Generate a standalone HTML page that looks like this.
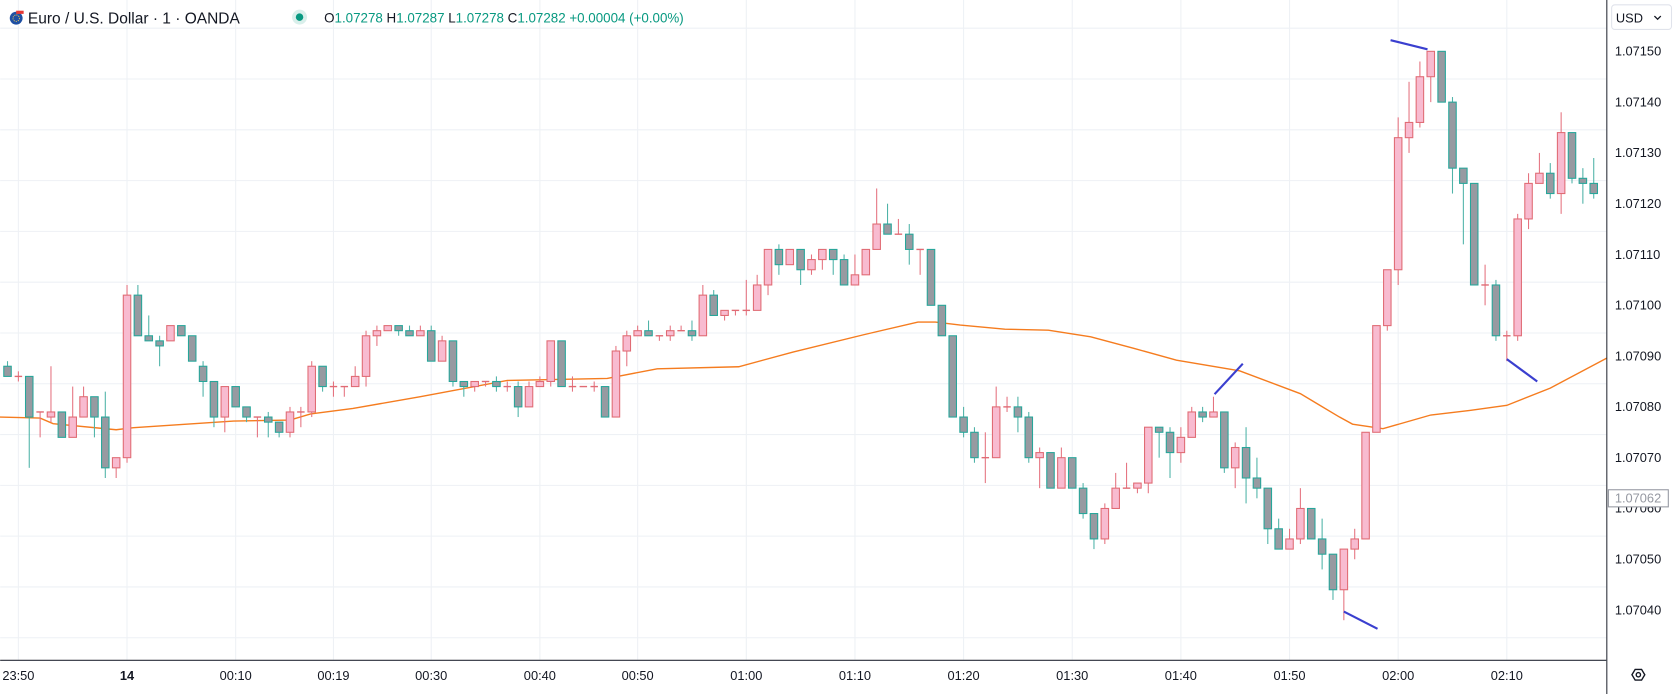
<!DOCTYPE html>
<html><head><meta charset="utf-8">
<style>
html,body{margin:0;padding:0;background:#fff;overflow:hidden}
svg{display:block;font-family:"Liberation Sans",sans-serif}
</style></head>
<body>
<svg id="chart" width="1677" height="694" viewBox="0 0 1568 649" xmlns="http://www.w3.org/2000/svg">
  <rect x="0" y="0" width="1568" height="649" fill="#ffffff"/>
  <g id="grid"></g>
  <g id="ma"></g>
  <g id="candles"></g>
  <g id="drawings"></g>
  <line x1="1502.5" y1="0" x2="1502.5" y2="649" stroke="#2a2e39" stroke-width="1"/>
  <line x1="0" y1="617.5" x2="1502" y2="617.5" stroke="#2a2e39" stroke-width="1"/>
  <g id="yaxis"></g>
  <g id="xaxis"></g>
  <g>
    <g>
      <circle cx="15" cy="17" r="6" fill="#1e4fa3"/>
      <path d="M15 10 L22 10 L22 13 L15 13 Z" fill="#e53935"/>
      <circle cx="15" cy="17" r="3" fill="none" stroke="#ffd54f" stroke-width="0.8" stroke-dasharray="1 1"/>
    </g>
    <text x="26" y="22" font-size="14.5" fill="#131722">Euro / U.S. Dollar · 1 · OANDA</text>
    <circle cx="280" cy="16" r="7" fill="#d9efeb"/>
    <circle cx="280" cy="16" r="3.5" fill="#089981"/>
    <text x="303" y="21" font-size="12.5" fill="#089981"><tspan fill="#131722">O</tspan>1.07278 <tspan fill="#131722">H</tspan>1.07287 <tspan fill="#131722">L</tspan>1.07278 <tspan fill="#131722">C</tspan>1.07282 +0.00004 (+0.00%)</text>
  </g>
  <g>
    <rect x="1507" y="4.5" width="56" height="23" rx="3" fill="#fff" stroke="#e0e3eb"/>
    <text x="1511" y="21" font-size="12" fill="#131722">USD</text>
    <path d="M1547 15 l3 3 l3 -3" fill="none" stroke="#131722" stroke-width="1.2"/>
  </g>
  <g>
    <rect x="1504" y="458" width="56" height="16" fill="#fff" stroke="#9598a1" stroke-width="1"/>
    <text x="1510" y="470" font-size="12" fill="#9598a1">1.07062</text>
  </g>
  <g>
    <path d="M1526 631 l3 -5 h6 l3 5 l-3 5 h-6 z" fill="none" stroke="#131722" stroke-width="1.3"/>
    <circle cx="1532" cy="631" r="2" fill="none" stroke="#131722" stroke-width="1.3"/>
  </g>
</svg>
<script>
const O=[1.07088,1.07086,1.07086,1.07079,1.07078,1.07079,1.07074,1.07078,1.07082,1.07078,1.07068,1.07070,1.07102,1.07094,1.07093,1.07093,1.07096,1.07094,1.07088,1.07085,1.07078,1.07084,1.07080,1.07078,1.07078,1.07077,1.07075,1.07079,1.07079,1.07088,1.07084,1.07084,1.07084,1.07086,1.07094,1.07095,1.07096,1.07095,1.07094,1.07095,1.07089,1.07093,1.07085,1.07084,1.07085,1.07085,1.07084,1.07084,1.07080,1.07084,1.07085,1.07093,1.07084,1.07084,1.07084,1.07084,1.07078,1.07091,1.07094,1.07095,1.07094,1.07094,1.07095,1.07095,1.07094,1.07102,1.07098,1.07099,1.07099,1.07099,1.07104,1.07111,1.07108,1.07111,1.07107,1.07109,1.07111,1.07109,1.07104,1.07106,1.07111,1.07116,1.07114,1.07114,1.07111,1.07111,1.07100,1.07094,1.07078,1.07075,1.07070,1.07070,1.07080,1.07080,1.07078,1.07070,1.07071,1.07064,1.07070,1.07064,1.07059,1.07054,1.07060,1.07064,1.07064,1.07065,1.07076,1.07075,1.07071,1.07074,1.07079,1.07078,1.07079,1.07068,1.07072,1.07066,1.07064,1.07056,1.07052,1.07054,1.07060,1.07054,1.07051,1.07044,1.07052,1.07054,1.07075,1.07096,1.07107,1.07133,1.07136,1.07145,1.07150,1.07140,1.07127,1.07124,1.07104,1.07104,1.07094,1.07094,1.07117,1.07124,1.07126,1.07122,1.07134,1.07125,1.07124];
const H=[1.07089,1.07087,1.07086,1.07079,1.07088,1.07079,1.07084,1.07084,1.07082,1.07083,1.07070,1.07104,1.07104,1.07098,1.07094,1.07096,1.07096,1.07094,1.07089,1.07085,1.07084,1.07084,1.07080,1.07078,1.07079,1.07077,1.07080,1.07080,1.07089,1.07088,1.07085,1.07084,1.07088,1.07095,1.07096,1.07096,1.07096,1.07096,1.07096,1.07096,1.07094,1.07093,1.07085,1.07085,1.07085,1.07086,1.07085,1.07085,1.07085,1.07086,1.07093,1.07093,1.07086,1.07084,1.07085,1.07084,1.07092,1.07095,1.07096,1.07097,1.07094,1.07096,1.07096,1.07097,1.07104,1.07103,1.07099,1.07099,1.07105,1.07106,1.07111,1.07112,1.07111,1.07111,1.07110,1.07111,1.07111,1.07110,1.07110,1.07111,1.07123,1.07120,1.07117,1.07116,1.07111,1.07111,1.07100,1.07094,1.07080,1.07076,1.07075,1.07084,1.07082,1.07082,1.07079,1.07072,1.07071,1.07072,1.07070,1.07065,1.07059,1.07061,1.07067,1.07069,1.07065,1.07076,1.07076,1.07076,1.07076,1.07080,1.07080,1.07082,1.07079,1.07073,1.07076,1.07070,1.07064,1.07058,1.07056,1.07064,1.07060,1.07058,1.07051,1.07052,1.07056,1.07075,1.07096,1.07107,1.07137,1.07144,1.07148,1.07150,1.07150,1.07141,1.07127,1.07124,1.07108,1.07105,1.07095,1.07118,1.07126,1.07130,1.07128,1.07138,1.07134,1.07127,1.07129];
const L=[1.07086,1.07085,1.07068,1.07074,1.07077,1.07074,1.07074,1.07078,1.07074,1.07066,1.07066,1.07069,1.07094,1.07093,1.07088,1.07093,1.07094,1.07089,1.07082,1.07076,1.07075,1.07080,1.07077,1.07074,1.07074,1.07074,1.07074,1.07076,1.07078,1.07083,1.07082,1.07082,1.07084,1.07084,1.07092,1.07095,1.07094,1.07094,1.07094,1.07089,1.07089,1.07084,1.07082,1.07083,1.07084,1.07083,1.07083,1.07078,1.07080,1.07084,1.07084,1.07084,1.07083,1.07084,1.07083,1.07078,1.07078,1.07088,1.07094,1.07094,1.07093,1.07093,1.07095,1.07093,1.07094,1.07098,1.07097,1.07098,1.07098,1.07099,1.07102,1.07106,1.07108,1.07104,1.07106,1.07107,1.07106,1.07104,1.07104,1.07106,1.07111,1.07114,1.07114,1.07108,1.07106,1.07100,1.07094,1.07078,1.07074,1.07069,1.07065,1.07070,1.07079,1.07075,1.07069,1.07064,1.07064,1.07064,1.07064,1.07058,1.07052,1.07053,1.07060,1.07064,1.07063,1.07063,1.07070,1.07066,1.07069,1.07074,1.07077,1.07078,1.07067,1.07064,1.07061,1.07062,1.07053,1.07052,1.07052,1.07053,1.07054,1.07048,1.07042,1.07038,1.07050,1.07054,1.07075,1.07095,1.07104,1.07130,1.07135,1.07140,1.07140,1.07122,1.07112,1.07104,1.07100,1.07093,1.07089,1.07093,1.07115,1.07124,1.07121,1.07118,1.07124,1.07120,1.07121];
const C=[1.07086,1.07086,1.07078,1.07079,1.07079,1.07074,1.07078,1.07082,1.07078,1.07068,1.07070,1.07102,1.07094,1.07093,1.07092,1.07096,1.07094,1.07089,1.07085,1.07078,1.07084,1.07080,1.07078,1.07078,1.07077,1.07075,1.07079,1.07079,1.07088,1.07084,1.07084,1.07084,1.07086,1.07094,1.07095,1.07096,1.07095,1.07094,1.07095,1.07089,1.07093,1.07085,1.07084,1.07085,1.07085,1.07084,1.07084,1.07080,1.07084,1.07085,1.07093,1.07084,1.07084,1.07084,1.07084,1.07078,1.07091,1.07094,1.07095,1.07094,1.07094,1.07095,1.07095,1.07094,1.07102,1.07098,1.07099,1.07099,1.07099,1.07104,1.07111,1.07108,1.07111,1.07107,1.07109,1.07111,1.07109,1.07104,1.07106,1.07111,1.07116,1.07114,1.07114,1.07111,1.07111,1.07100,1.07094,1.07078,1.07075,1.07070,1.07070,1.07080,1.07080,1.07078,1.07070,1.07071,1.07064,1.07070,1.07064,1.07059,1.07054,1.07060,1.07064,1.07064,1.07065,1.07076,1.07075,1.07071,1.07074,1.07079,1.07078,1.07079,1.07068,1.07072,1.07066,1.07064,1.07056,1.07052,1.07054,1.07060,1.07054,1.07051,1.07044,1.07052,1.07054,1.07075,1.07096,1.07107,1.07133,1.07136,1.07145,1.07150,1.07140,1.07127,1.07124,1.07104,1.07104,1.07094,1.07094,1.07117,1.07124,1.07126,1.07122,1.07134,1.07125,1.07124,1.07122];
const maIdx=[-0.7,3,4.2,10,11.6,20.8,26,27.9,31.8,38,46,55.2,59.8,67.3,72.3,78.8,83.8,85.4,87.7,91.8,95.8,99.7,103.7,107.6,113.4,119,120.8,122.6,123.8,126.6,131,134.6,138,142,147.2];
const maVal=[1.07078,1.070778,1.070767,1.070755,1.070759,1.070772,1.070774,1.070786,1.070797,1.07082,1.070852,1.070856,1.070875,1.070879,1.070908,1.070942,1.070967,1.070967,1.070961,1.070953,1.070951,1.070938,1.070915,1.070892,1.070871,1.070826,1.070803,1.07078,1.070766,1.070757,1.070784,1.070793,1.070803,1.070837,1.070896];
const drawIdx=[[111.1,113.7],[127.3,130.7],[123,126.1],[138,140.8]];
const drawVal=[[1.070825,1.070885],[1.071522,1.071504],[1.070397,1.070363],[1.070894,1.07085]];
const priceTicks=[1.0715,1.0714,1.0713,1.0712,1.0711,1.071,1.0709,1.0708,1.0707,1.0706,1.0705,1.0704];
const timeIdx=[1,11,21,30,39,49,58,68,78,88,98,108,118,128,138];
const timeLabels=["23:50","14","00:10","00:19","00:30","00:40","00:50","01:00","01:10","01:20","01:30","01:40","01:50","02:00","02:10"];

const NS="http://www.w3.org/2000/svg";
function X(i){return 6.9+i*10.16;}
function Y(p){return 48+(1.0715-p)/0.00001*4.75;}
function mk(tag,attrs,parent){const e=document.createElementNS(NS,tag);for(const k in attrs)e.setAttribute(k,attrs[k]);parent.appendChild(e);return e;}
const grid=document.getElementById('grid');
priceTicks.forEach(p=>{
  const g=mk('line',{x1:0,x2:1502,y1:Y(p+0.0000455),y2:Y(p+0.0000455),stroke:'#eef1f5','stroke-width':1},grid);
  
  
});
{const p=priceTicks[priceTicks.length-1]-0.0001;const g=mk('line',{x1:0,x2:1502,y1:Y(p+0.0000455),y2:Y(p+0.0000455),stroke:'#eef1f5','stroke-width':1},grid);

}
timeIdx.forEach(i=>{
  const g=mk('line',{x1:X(i),x2:X(i),y1:0,y2:617,stroke:'#eef1f5','stroke-width':1},grid);
  
  
});
const yaxis=document.getElementById('yaxis');
priceTicks.forEach(p=>{
  const t=mk('text',{x:1510,y:Y(p)+4,'font-size':12,fill:'#131722'},yaxis);
  t.textContent=p.toFixed(5);
  
  
});
const xaxis=document.getElementById('xaxis');
timeIdx.forEach((i,k)=>{
  const t=mk('text',{x:X(i),y:636,'font-size':12,fill:'#131722','text-anchor':'middle','font-weight':timeLabels[k]==='14'?'bold':'normal'},xaxis);
  t.textContent=timeLabels[k];
  
  
});
const ma=document.getElementById('ma');
const pl=mk('polyline',{points:maIdx.map((v,k)=>X(v)+','+Y(maVal[k])).join(' '),fill:'none',stroke:'#f57c1f','stroke-width':1.3},ma);


const cg=document.getElementById('candles');
O.forEach((o,i)=>{
  const c=C[i],up=c>=o,x=X(i);
  const g=mk('g',{},cg);
  
  
  mk('line',{x1:x,x2:x,y1:Y(H[i]),y2:Y(L[i]),stroke:up?'#e57380':'#4fb3a8','stroke-width':1},g);
  const top=Y(Math.max(o,c)),bot=Y(Math.min(o,c));
  const h=Math.max(bot-top,1);
  if(bot-top<1.5){
    mk('line',{x1:x-3.5,x2:x+3.5,y1:top,y2:top,stroke:up?'#e06b74':'#26a69a','stroke-width':1.3},g);
  } else {
    mk('rect',{x:x-3.5,y:top,width:7,height:h,fill:up?'#f8bbd0':'#979aa1',stroke:up?'#e06b74':'#26a69a','stroke-width':1},g);
  }
});
const dg=document.getElementById('drawings');
drawIdx.forEach((d,k)=>{
  const l=mk('line',{x1:X(d[0]),x2:X(d[1]),y1:Y(drawVal[k][0]),y2:Y(drawVal[k][1]),stroke:'#3a3fcf','stroke-width':2},dg);
  
  
});
</script>
</body></html>
